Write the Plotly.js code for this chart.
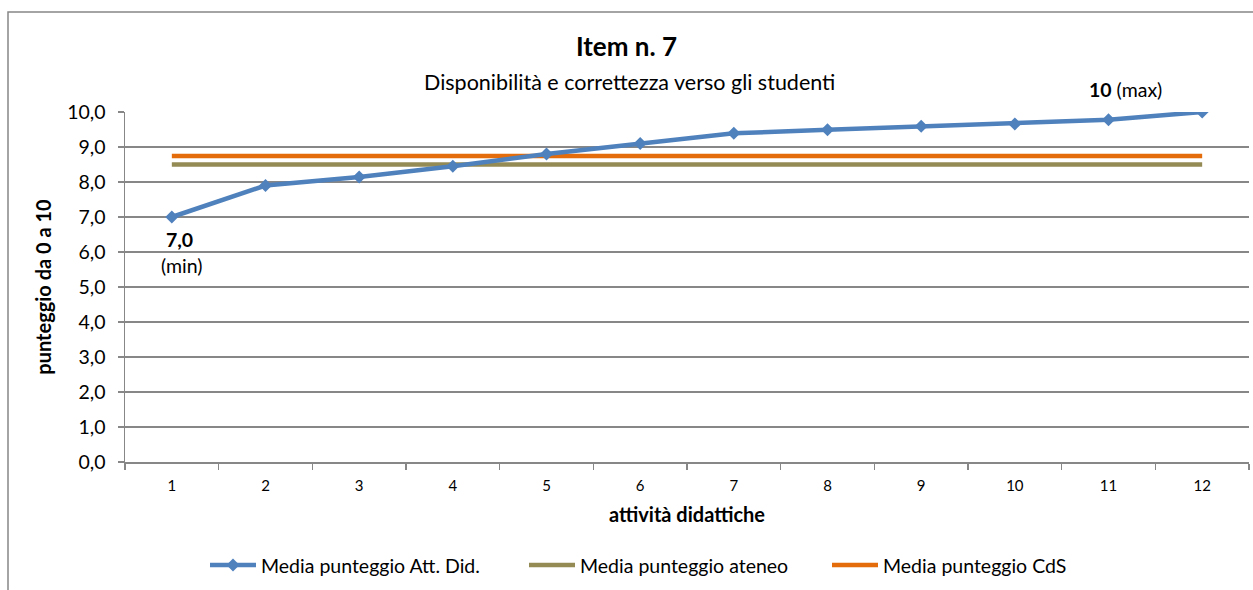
<!DOCTYPE html>
<html>
<head>
<meta charset="utf-8">
<script src="https://cdn.plot.ly/plotly-3.0.1.min.js"></script>
<style>
html,body{margin:0;padding:0;background:#fff;}
#chart{width:1253px;height:590px;}
</style>
</head>
<body>
<div id="chart"></div>
<script>
// ---- data ----
const categories = ["1","2","3","4","5","6","7","8","9","10","11","12"];
const mediaAttDid = [7.0, 7.9, 8.14, 8.45, 8.8, 9.1, 9.39, 9.49, 9.59, 9.66, 9.78, 10.0];
const mediaAteneo = [8.5, 8.5, 8.5, 8.5, 8.5, 8.5, 8.5, 8.5, 8.5, 8.5, 8.5, 8.5];
const mediaCdS = [8.74, 8.74, 8.74, 8.74, 8.74, 8.74, 8.74, 8.74, 8.74, 8.74, 8.74, 8.74];
const seriesNames = ["Media punteggio Att. Did.", "Media punteggio ateneo", "Media punteggio CdS"];
const yTickVals = [0,1,2,3,4,5,6,7,8,9,10];
const titleText = "Item n. 7";
const subtitleText = "Disponibilità e correttezza verso gli studenti";

const FONT = "Lato, 'Open Sans', sans-serif";
const GRID = "#878787";

const traces = [
  {x: categories, y: mediaAteneo, name: seriesNames[1], type: "scatter", mode: "lines",
   line: {color: "#948A54", width: 4.5}, legend: "legend2"},
  {x: categories, y: mediaCdS, name: seriesNames[2], type: "scatter", mode: "lines",
   line: {color: "#E46C0A", width: 4.5}, legend: "legend3"},
  {x: categories, y: mediaAttDid, name: seriesNames[0], type: "scatter", mode: "lines+markers",
   line: {color: "#4F81BD", width: 4.5}, marker: {symbol: "diamond", size: 10, color: "#4F81BD"},
   legend: "legend"}
];

const legendBase = {orientation: "h", yanchor: "middle", y: -0.295, xanchor: "left",
  font: {family: FONT, size: 19.5, color: "#000"}, itemwidth: 46, bgcolor: "rgba(0,0,0,0)"};

const iMin = mediaAttDid.indexOf(Math.min(...mediaAttDid));
const iMax = mediaAttDid.indexOf(Math.max(...mediaAttDid));

const layout = {
  width: 1253, height: 590,
  margin: {l: 125, r: 4, t: 112, b: 128},
  paper_bgcolor: "#fff", plot_bgcolor: "#fff",
  separators: ",.",
  font: {family: FONT, color: "#000"},
  title: {
    text: "<b>" + titleText + "</b>",
    font: {family: FONT, size: 26, color: "#000"},
    x: 0.5, xref: "container", xanchor: "center",
    y: 1 - 47/590, yref: "container", yanchor: "middle"
  },
  xaxis: {
    type: "category", range: [-0.5, 11.5], tickson: "boundaries",
    ticks: "outside", ticklen: 6, tickcolor: GRID, tickwidth: 1.5,
    showline: true, linecolor: GRID, linewidth: 1.5, showgrid: false, zeroline: false,
    tickfont: {family: FONT, size: 15, color: "#000"},
    ticklabelstandoff: 9,
    title: {text: "<b>attività didattiche</b>", font: {family: FONT, size: 20, color: "#000"}, standoff: 15},
    fixedrange: true
  },
  yaxis: {
    range: [0, 10], tickvals: yTickVals, tickformat: ".1f",
    ticks: "outside", ticklen: 6, tickcolor: GRID, tickwidth: 1.5,
    showline: true, linecolor: GRID, linewidth: 1.5,
    showgrid: true, gridcolor: GRID, gridwidth: 1.2, zeroline: false,
    tickfont: {family: FONT, size: 19.5, color: "#000"},
    ticklabelstandoff: 8,
    title: {text: "<b>punteggio da 0 a 10</b>", font: {family: FONT, size: 20, color: "#000"}, standoff: 10},
    fixedrange: true
  },
  legend: Object.assign({}, legendBase, {x: (205 - 125)/1124}),
  legend2: Object.assign({}, legendBase, {x: (524 - 125)/1124}),
  legend3: Object.assign({}, legendBase, {x: (827 - 125)/1124}),
  shapes: [
    {type: "rect", xref: "paper", yref: "paper", x0: (8 - 125)/1124, x1: 1.05, y0: -0.5, y1: 1 + 100/350,
     line: {color: GRID, width: 1.5}, fillcolor: "rgba(0,0,0,0)", layer: "below"}
  ],
  annotations: [
    {xref: "paper", yref: "paper", x: (629 - 125)/1124, y: 1 + (112 - 82)/350,
     xanchor: "center", yanchor: "middle", text: subtitleText, showarrow: false,
     font: {family: FONT, size: 21.5, color: "#000"}},
    {x: iMin, y: mediaAttDid[iMin], xref: "x", yref: "y", text: "<b>7,0</b>", showarrow: false,
     xshift: 8, yshift: -22, font: {family: FONT, size: 19.5, color: "#000"}},
    {x: iMin, y: mediaAttDid[iMin], xref: "x", yref: "y", text: "(min)", showarrow: false,
     xshift: 10, yshift: -48, font: {family: FONT, size: 19.5, color: "#000"}},
    {x: iMax, y: mediaAttDid[iMax], xref: "x", yref: "y", text: "<b>10</b> (max)", showarrow: false,
     xshift: -77, yshift: 23, font: {family: FONT, size: 19.5, color: "#000"}}
  ],
  showlegend: true
};

Plotly.newPlot("chart", traces, layout, {staticPlot: true, displayModeBar: false});
</script>
</body>
</html>
